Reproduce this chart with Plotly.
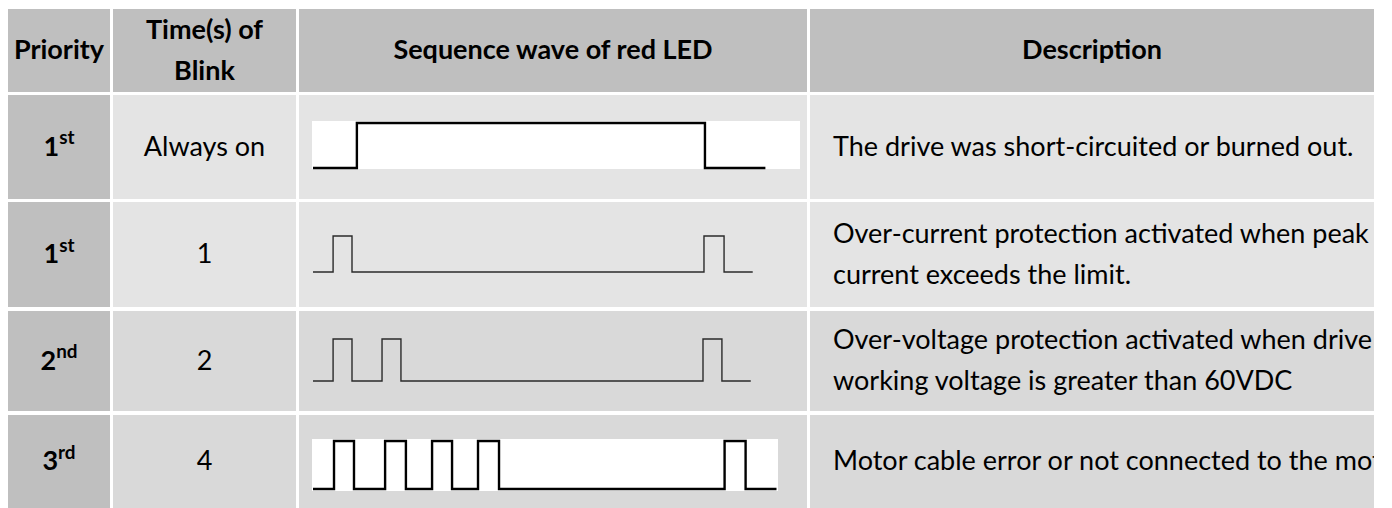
import plotly.graph_objects as go

W, H = 1392, 508

# ---------------- data ----------------
headers = ["Priority", "Time(s) of|Blink", "Sequence wave of red LED", "Description"]
priorities = ["1<sup>st</sup>", "1<sup>st</sup>", "2<sup>nd</sup>", "3<sup>rd</sup>"]
blink_times = ["Always on", "1", "2", "4"]
descriptions = [
    ["The drive was short-circuited or burned out."],
    ["Over-current protection activated when peak", "current exceeds the limit."],
    ["Over-voltage protection activated when drive", "working voltage is greater than 60VDC"],
    ["Motor cable error or not connected to the motor"],
]

# LED sequence waves: transition times (in pulse-width units) and levels (0 = off, 1 = on)
wave1_t = [0, 2.25, 20.1, 23.2]
wave1_v = [0, 1, 0, 0]
wave2_t = [0, 1.03, 2.0, 20.05, 21.08, 22.55]
wave2_v = [0, 1, 0, 1, 0, 0]
wave3_t = [0, 1.03, 2.0, 3.54, 4.51, 20.0, 20.97, 22.45]
wave3_v = [0, 1, 0, 1, 0, 1, 0, 0]
wave4_t = [0, 1.02, 1.99, 3.5, 4.51, 5.78, 6.75, 8.01, 9.03, 19.98, 21.0, 22.5]
wave4_v = [0, 1, 0, 1, 0, 1, 0, 1, 0, 1, 0, 0]
waves = [(wave1_t, wave1_v), (wave2_t, wave2_v), (wave3_t, wave3_v), (wave4_t, wave4_v)]

# ---------------- layout geometry (figure pixels) ----------------
col_edges = [(0, 102), (105, 288), (291, 799), (802, 1366)]
row_edges = [(1, 84), (87, 191), (194, 299), (303, 403), (407, 500)]
TABLE_RIGHT = 1366
HEAD_BG = "#bfbfbf"
COL1_BG = "#bfbfbf"
ROW_BG = ["#e4e4e4", "#e4e4e4", "#d9d9d9", "#d9d9d9"]

# wave placement: origin px, px per unit, low px, high px, line width, color
wave_geo = [
    (305, 19.5, 160, 115, 2.4, "#000000"),
    (305, 19.5, 264, 228, 1.4, "#2a2a2a"),
    (305, 19.5, 373, 331, 1.4, "#2a2a2a"),
    (305, 20.6, 481, 433, 2.4, "#000000"),
]
white_boxes = [(304, 792, 113, 161), None, None, (304, 770, 431, 483)]
DESC_X = 825
TEXT_DY = 2

FONT = "Lato"
FS = 27

fig = go.Figure()
shapes = []

def rect(x0, x1, y0, y1, color):
    shapes.append(dict(type="rect", xref="x", yref="y", x0=x0, x1=x1, y0=y0, y1=y1,
                       fillcolor=color, line=dict(width=0), layer="below"))

# header row
hy0, hy1 = row_edges[0]
for (cx0, cx1) in col_edges:
    rect(cx0, cx1, hy0, hy1, HEAD_BG)
# body rows
for r in range(4):
    ry0, ry1 = row_edges[r + 1]
    for c, (cx0, cx1) in enumerate(col_edges):
        rect(cx0, cx1, ry0, ry1, COL1_BG if c == 0 else ROW_BG[r])
    wb = white_boxes[r]
    if wb:
        rect(wb[0], wb[1], wb[2], wb[3], "#ffffff")

# ---------------- texts ----------------
tx, ty, tt = [], [], []
def center(c):
    return (col_edges[c][0] + col_edges[c][1]) / 2
def rmid(r):
    return (row_edges[r][0] + row_edges[r][1]) / 2 + TEXT_DY

LINE = 41
for c, h in enumerate(headers):
    lines = h.split("|")
    n = len(lines)
    for i, ln in enumerate(lines):
        tx.append(center(c))
        ty.append(rmid(0) + (i - (n - 1) / 2) * LINE)
        tt.append("<b>" + ln + "</b>")

for r in range(4):
    tx.append(center(0)); ty.append(rmid(r + 1)); tt.append("<b>" + priorities[r] + "</b>")
    tx.append(center(1)); ty.append(rmid(r + 1)); tt.append(blink_times[r])

fig.add_trace(go.Scatter(x=tx, y=ty, text=tt, mode="text", textposition="middle center",
                         textfont=dict(family=FONT, size=FS, color="#000000"),
                         hoverinfo="skip", showlegend=False, cliponaxis=True,
                         xaxis="x", yaxis="y"))

dx, dy, dt = [], [], []
for r, lines in enumerate(descriptions):
    n = len(lines)
    for i, ln in enumerate(lines):
        dx.append(DESC_X)
        dy.append(rmid(r + 1) + (i - (n - 1) / 2) * LINE)
        dt.append(ln)
fig.add_trace(go.Scatter(x=dx, y=dy, text=dt, mode="text", textposition="middle right",
                         textfont=dict(family=FONT, size=FS, color="#000000"),
                         hoverinfo="skip", showlegend=False, cliponaxis=True,
                         xaxis="x", yaxis="y"))

# ---------------- waves ----------------
layout_axes = {}
PAD_T = 1.0
PAD_Y = 0.3
for i, ((t, v), geo) in enumerate(zip(waves, wave_geo)):
    ox, ppu, ylow, yhigh, lw, col = geo
    tmin, tmax = -PAD_T, max(t) + PAD_T
    px0, px1 = ox + tmin * ppu, ox + tmax * ppu
    ypu = ylow - yhigh
    py_top = yhigh - PAD_Y * ypu
    py_bot = ylow + PAD_Y * ypu
    k = i + 2
    fig.add_trace(go.Scatter(x=t, y=v, mode="lines", line=dict(shape="hv", width=lw, color=col),
                             hoverinfo="skip", showlegend=False,
                             xaxis=f"x{k}", yaxis=f"y{k}"))
    layout_axes[f"xaxis{k}"] = dict(domain=[px0 / W, px1 / W], range=[tmin, tmax], visible=False,
                                    anchor=f"y{k}", fixedrange=True)
    layout_axes[f"yaxis{k}"] = dict(domain=[1 - py_bot / H, 1 - py_top / H],
                                    range=[-PAD_Y, 1 + PAD_Y], visible=False,
                                    anchor=f"x{k}", fixedrange=True)

fig.update_layout(
    width=W, height=H,
    margin=dict(l=0, r=0, t=0, b=0),
    paper_bgcolor="#ffffff",
    plot_bgcolor="rgba(0,0,0,0)",
    showlegend=False,
    xaxis=dict(domain=[0, TABLE_RIGHT / W], range=[0, TABLE_RIGHT], visible=False, fixedrange=True),
    yaxis=dict(domain=[0, 1], range=[H, 0], visible=False, fixedrange=True),
    shapes=shapes,
    **layout_axes,
)

fig.write_html("out.html", config={"displayModeBar": False})
